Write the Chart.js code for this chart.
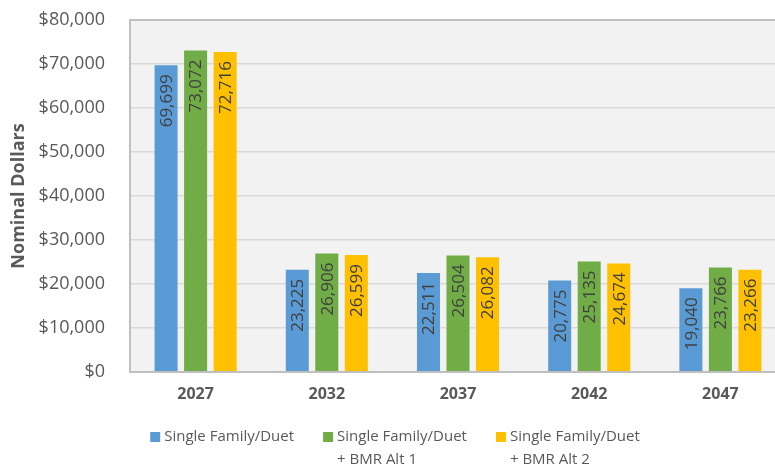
<!DOCTYPE html>
<html>
<head>
<meta charset="utf-8">
<script src="https://cdn.jsdelivr.net/npm/chart.js@4"></script>
<style>
  html, body { margin: 0; padding: 0; background: #fff; overflow: hidden; }
  #wrap { width: 790px; height: 472px; }
</style>
</head>
<body>
<div id="wrap"><canvas id="chart"></canvas></div>
<script>
// Dados do gráfico
const years = ['2027', '2032', '2037', '2042', '2047'];
const seriesNames = [
    ['Single Family/Duet'],
    ['Single Family/Duet', '+ BMR Alt 1'],
    ['Single Family/Duet', '+ BMR Alt 2']
];
const singleFamily = [69699, 23225, 22511, 20775, 19040];
const bmrAlt1 = [73072, 26906, 26504, 25135, 23766];
const bmrAlt2 = [72716, 26599, 26082, 24674, 23266];
const colors = ['#5b9bd5', '#70ad47', '#ffc000'];

const FONT = '"Open Sans", sans-serif';

// Fundo cinza da área do gráfico + borda
const plotArea = {
    id: 'plotArea',
    beforeDraw(chart) {
        const { ctx, chartArea: a } = chart;
        ctx.save();
        ctx.fillStyle = '#f2f2f2';
        ctx.fillRect(a.left, a.top, a.right - a.left, a.bottom - a.top);
        ctx.restore();
    },
    afterDatasetsDraw(chart) {
        const { ctx, chartArea: a } = chart;
        ctx.save();
        ctx.strokeStyle = '#bfbfbf';
        ctx.lineWidth = 2;
        ctx.strokeRect(a.left, a.top, a.right - a.left, a.bottom - a.top);
        ctx.restore();
    }
};

// Rótulos verticais dentro das barras
const barLabels = {
    id: 'barLabels',
    afterDatasetsDraw(chart) {
        const { ctx } = chart;
        ctx.save();
        ctx.font = '17px ' + FONT;
        ctx.fillStyle = '#404040';
        ctx.textAlign = 'right';
        ctx.textBaseline = 'middle';
        chart.data.datasets.forEach((ds, i) => {
            chart.getDatasetMeta(i).data.forEach((bar, j) => {
                ctx.save();
                ctx.translate(bar.x, bar.y);
                ctx.rotate(-Math.PI / 2);
                ctx.fillText(ds.data[j].toLocaleString('en-US'), -9, 1);
                ctx.restore();
            });
        });
        ctx.restore();
    }
};

// Legenda com rótulos de duas linhas
const legendBox = {
    id: 'legendBox',
    afterDraw(chart) {
        const { ctx } = chart;
        ctx.save();
        ctx.font = '15px ' + FONT;
        ctx.textBaseline = 'middle';
        ctx.textAlign = 'left';
        const widths = seriesNames.map(lines =>
            14 + Math.max(...lines.map(t => ctx.measureText(t).width)));
        const gap = 29;
        const total = widths.reduce((a, b) => a + b, 0) + gap * (widths.length - 1);
        let x = chart.width / 2 - total / 2;
        const y = chart.height - 35;
        seriesNames.forEach((lines, i) => {
            ctx.fillStyle = colors[i];
            ctx.fillRect(x, y - 5, 10, 10);
            ctx.fillStyle = '#595959';
            lines.forEach((t, k) => ctx.fillText(t, x + 14, y + k * 23));
            x += widths[i] + gap;
        });
        ctx.restore();
    }
};

new Chart(document.getElementById('chart'), {
    type: 'bar',
    data: {
        labels: years,
        datasets: [singleFamily, bmrAlt1, bmrAlt2].map((d, i) => ({
            label: seriesNames[i].join(' '),
            data: d,
            backgroundColor: colors[i],
            barPercentage: 0.78,
            categoryPercentage: 0.675
        }))
    },
    options: {
        responsive: true,
        maintainAspectRatio: false,
        animation: false,
        layout: { autoPadding: false, padding: { top: 20, right: 4, left: 6, bottom: 68 } },
        plugins: {
            legend: { display: false },
            tooltip: { enabled: false }
        },
        scales: {
            x: {
                grid: { display: false },
                border: { color: '#bfbfbf', width: 2 },
                afterFit: s => { s.height = 32; },
                ticks: {
                    font: { family: FONT, size: 16, weight: 'bold' },
                    color: '#595959',
                    padding: 5
                }
            },
            y: {
                min: 0,
                max: 80000,
                grid: { color: '#d9d9d9', lineWidth: 1.5, drawTicks: false },
                border: { display: false },
                afterFit: s => { s.width = 124; s.paddingTop = 0; s.paddingBottom = 0; },
                ticks: {
                    stepSize: 10000,
                    font: { family: FONT, size: 18 },
                    color: '#595959',
                    padding: 25,
                    callback: v => '$' + v.toLocaleString('en-US')
                },
                title: {
                    display: true,
                    text: 'Nominal Dollars',
                    font: { family: FONT, size: 18, weight: 'bold' },
                    color: '#595959',
                    padding: 2
                }
            }
        }
    },
    plugins: [plotArea, barLabels, legendBox]
});
</script>
</body>
</html>
